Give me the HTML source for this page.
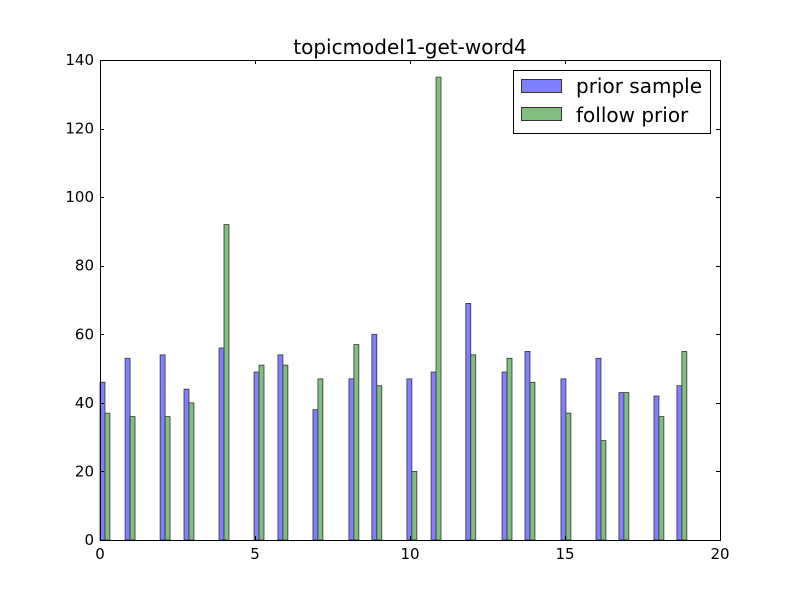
<!DOCTYPE html>
<html><head><meta charset="utf-8"><style>
body{margin:0;background:#fff;}
svg{display:block;font-family:"DejaVu Sans","Liberation Sans",sans-serif;}
</style></head><body>
<svg id="chart" width="800" height="600" viewBox="0 0 800 600">
<rect width="800" height="600" fill="#fff"/>
<text x="410" y="54" font-size="20" text-anchor="middle">topicmodel1-get-word4</text>
<g id="bars"></g>
<g id="axes"></g>
<g>
<rect x="513.5" y="70.5" width="197" height="63" fill="#fff" stroke="#000" stroke-width="1"/>
<rect x="521.5" y="79.5" width="40" height="13" fill="#8080ff" stroke="#333"/>
<text x="576" y="93" font-size="20">prior sample</text>
<rect x="521.5" y="107.5" width="40" height="13" fill="#80bf80" stroke="#333"/>
<text x="576" y="122" font-size="20">follow prior</text>
</g>
</svg>
<script>
const positions=[0,0.81,1.94,2.71,3.84,4.97,5.74,6.87,8.03,8.77,9.9,10.68,11.8,12.97,13.71,14.87,16,16.74,17.87,18.61];
const priorSample=[46,53,54,44,56,49,54,38,47,60,47,49,69,49,55,47,53,43,42,45];
const followPrior=[37,36,36,40,92,51,51,47,57,45,20,135,54,53,46,37,29,43,36,55];
const xTicks=[0,5,10,15,20];
const yTicks=[0,20,40,60,80,100,120,140];
const X0=100,X1=720,Y0=540,Y1=60;
const xs=v=>X0+(v-0)/(20-0)*(X1-X0);
const ys=v=>Y0-(v-0)/(140-0)*(Y0-Y1);
const NS='http://www.w3.org/2000/svg';
const bw=0.16;
const bars=document.getElementById('bars');
function mk(tag,attrs,parent){const e=document.createElementNS(NS,tag);for(const k in attrs)e.setAttribute(k,attrs[k]);parent.appendChild(e);return e;}
positions.forEach((p,i)=>{
  const a=mk('rect',{x:xs(p),y:ys(priorSample[i]),width:xs(p+bw)-xs(p),height:ys(0)-ys(priorSample[i]),fill:'#8080ff',stroke:'#333','stroke-width':0.8},bars);
  
  
  const b=mk('rect',{x:xs(p+bw),y:ys(followPrior[i]),width:xs(p+2*bw)-xs(p+bw),height:ys(0)-ys(followPrior[i]),fill:'#80bf80',stroke:'#333','stroke-width':0.8},bars);
  
  
});
const ax=document.getElementById('axes');
const frame=mk('rect',{x:X0+0.5,y:Y1+0.5,width:X1-X0,height:Y0-Y1,fill:'none',stroke:'#000','stroke-width':1},ax);


xTicks.forEach(t=>{
  const x=Math.round(xs(t))+0.5;
  mk('line',{x1:x,x2:x,y1:Y0,y2:Y0-4,stroke:'#000'},ax);
  mk('line',{x1:x,x2:x,y1:Y1,y2:Y1+4,stroke:'#000'},ax);
  const tx=mk('text',{x:xs(t),y:Y0+19,'font-size':15,'text-anchor':'middle'},ax);
  tx.textContent=t;
  
  
});
yTicks.forEach(t=>{
  const y=Math.round(ys(t))+0.5;
  mk('line',{x1:X0,x2:X0+4,y1:y,y2:y,stroke:'#000'},ax);
  mk('line',{x1:X1,x2:X1-4,y1:y,y2:y,stroke:'#000'},ax);
  const tx=mk('text',{x:X0-6,y:ys(t)+5,'font-size':15,'text-anchor':'end'},ax);
  tx.textContent=t;
  
  
});
</script>
</body></html>
